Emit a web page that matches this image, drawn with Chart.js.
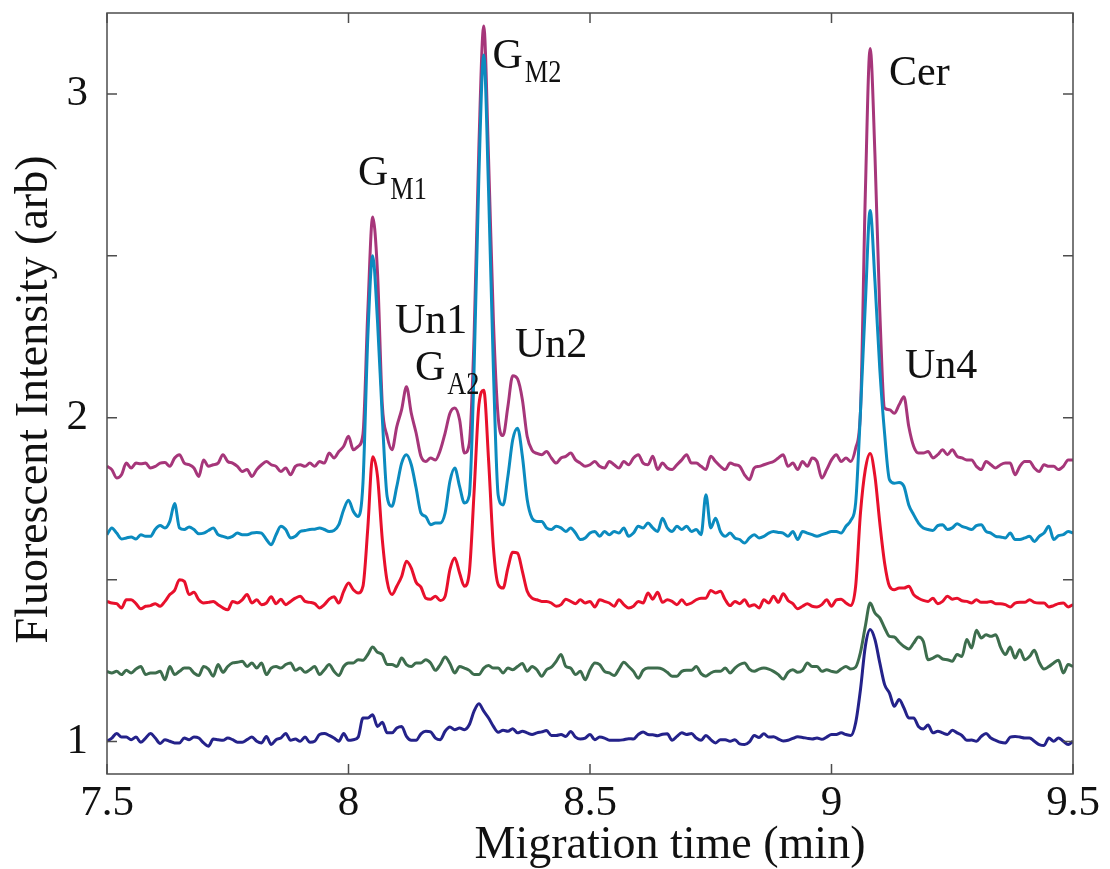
<!DOCTYPE html>
<html><head><meta charset="utf-8">
<script src="https://cdn.jsdelivr.net/npm/chart.js@4.4.0/dist/chart.umd.min.js"></script>
<style>html,body{margin:0;padding:0;background:#fff;} #wrap{width:1110px;height:869px;}</style>
</head><body><div id="wrap"><canvas id="c" width="1110" height="869"></canvas></div>
<script>
// Migration time grid: 7.50 ... 9.50 min, step 0.01
const tStart = 7.5, tStep = 0.01;

const magentaSeries = [
1.850,1.840,1.814,1.824,1.860,1.845,1.860,1.858,1.860,1.845,
1.850,1.860,1.862,1.850,1.876,1.886,1.860,1.855,1.845,1.819,
1.870,1.850,1.855,1.860,1.886,1.865,1.860,1.850,1.834,1.840,
1.819,1.840,1.855,1.865,1.855,1.850,1.834,1.845,1.824,1.850,
1.855,1.850,1.860,1.850,1.865,1.860,1.891,1.876,1.896,1.912,
1.943,1.901,1.912,1.950,2.330,2.620,2.450,2.040,1.943,1.901,
1.973,2.025,2.096,2.014,1.953,1.881,1.865,1.876,1.870,1.900,
1.953,2.014,2.030,1.994,1.891,1.920,2.250,2.840,3.210,2.800,
2.300,2.000,1.945,2.035,2.130,2.120,2.056,1.942,1.900,1.890,
1.886,1.896,1.876,1.860,1.876,1.881,1.891,1.870,1.860,1.850,
1.855,1.865,1.850,1.845,1.865,1.855,1.845,1.865,1.855,1.876,
1.886,1.860,1.855,1.881,1.840,1.860,1.845,1.840,1.855,1.870,
1.886,1.860,1.860,1.850,1.840,1.881,1.865,1.850,1.840,1.860,
1.855,1.850,1.824,1.809,1.845,1.850,1.855,1.860,1.865,1.876,
1.886,1.850,1.860,1.840,1.865,1.850,1.876,1.865,1.814,1.840,
1.870,1.886,1.865,1.876,1.865,1.906,2.020,2.690,3.140,2.810,
2.330,2.030,2.025,2.014,2.040,2.065,1.973,1.912,1.891,1.891,
1.896,1.876,1.886,1.901,1.886,1.901,1.881,1.876,1.870,1.870,
1.850,1.840,1.865,1.855,1.845,1.855,1.860,1.860,1.824,1.850,
1.865,1.865,1.845,1.834,1.855,1.850,1.850,1.840,1.850,1.870,1.870
];

const tealSeries = [
1.639,1.660,1.644,1.626,1.629,1.632,1.626,1.639,1.634,1.634,
1.656,1.667,1.660,1.680,1.735,1.660,1.655,1.663,1.655,1.642,
1.644,1.652,1.660,1.639,1.634,1.629,1.634,1.644,1.639,1.639,
1.644,1.646,1.644,1.624,1.608,1.639,1.665,1.655,1.629,1.634,
1.649,1.652,1.655,1.656,1.660,1.655,1.649,1.652,1.670,1.716,
1.745,1.711,1.695,1.800,2.250,2.500,2.300,2.000,1.757,1.727,
1.788,1.860,1.886,1.855,1.783,1.706,1.695,1.670,1.675,1.675,
1.706,1.804,1.845,1.788,1.737,1.760,2.150,2.750,3.120,2.700,
2.150,1.760,1.731,1.819,1.932,1.968,1.881,1.747,1.690,1.680,
1.680,1.660,1.655,1.665,1.660,1.649,1.660,1.644,1.624,1.629,
1.644,1.649,1.634,1.649,1.639,1.649,1.644,1.660,1.634,1.644,
1.665,1.660,1.675,1.660,1.649,1.690,1.660,1.649,1.665,1.655,
1.665,1.649,1.655,1.639,1.762,1.660,1.690,1.649,1.634,1.644,
1.629,1.624,1.613,1.629,1.639,1.629,1.634,1.644,1.649,1.646,
1.644,1.634,1.649,1.624,1.649,1.644,1.639,1.634,1.639,1.644,
1.649,1.649,1.644,1.665,1.683,1.737,2.020,2.350,2.640,2.420,
2.150,1.950,1.809,1.798,1.800,1.788,1.731,1.701,1.675,1.660,
1.655,1.652,1.667,1.670,1.655,1.660,1.673,1.665,1.660,1.655,
1.667,1.670,1.649,1.644,1.634,1.632,1.629,1.644,1.624,1.624,
1.629,1.634,1.618,1.634,1.644,1.665,1.624,1.636,1.639,1.649,1.644
];

const redSeries = [
1.433,1.428,1.426,1.413,1.438,1.438,1.426,1.410,1.418,1.420,
1.426,1.418,1.433,1.454,1.467,1.500,1.495,1.454,1.461,1.438,
1.428,1.430,1.433,1.423,1.413,1.407,1.433,1.428,1.438,1.454,
1.428,1.438,1.423,1.428,1.447,1.426,1.440,1.423,1.433,1.443,
1.449,1.433,1.430,1.426,1.413,1.423,1.440,1.447,1.428,1.464,
1.490,1.469,1.459,1.480,1.660,1.880,1.820,1.624,1.495,1.454,
1.480,1.510,1.557,1.536,1.492,1.477,1.443,1.440,1.449,1.436,
1.449,1.531,1.567,1.521,1.480,1.521,1.770,2.040,2.085,1.870,
1.600,1.485,1.474,1.536,1.585,1.582,1.526,1.464,1.443,1.438,
1.433,1.433,1.428,1.418,1.423,1.440,1.433,1.426,1.438,1.428,
1.433,1.416,1.438,1.433,1.428,1.418,1.438,1.423,1.413,1.418,
1.433,1.428,1.459,1.440,1.461,1.430,1.438,1.433,1.423,1.438,
1.423,1.428,1.438,1.443,1.443,1.467,1.459,1.464,1.438,1.420,
1.433,1.426,1.438,1.418,1.423,1.413,1.438,1.428,1.449,1.430,
1.457,1.436,1.426,1.410,1.418,1.426,1.418,1.416,1.423,1.438,
1.418,1.438,1.440,1.428,1.420,1.480,1.706,1.840,1.890,1.819,
1.675,1.551,1.480,1.469,1.474,1.474,1.480,1.454,1.443,1.436,
1.433,1.443,1.426,1.433,1.449,1.440,1.443,1.435,1.433,1.428,
1.438,1.430,1.430,1.433,1.426,1.426,1.423,1.416,1.428,1.430,
1.430,1.438,1.430,1.428,1.428,1.416,1.420,1.426,1.428,1.416,1.423
];

const greenSeries = [
1.217,1.212,1.217,1.207,1.220,1.212,1.224,1.232,1.207,1.212,
1.212,1.217,1.191,1.232,1.207,1.217,1.227,1.227,1.212,1.204,
1.232,1.224,1.202,1.238,1.214,1.232,1.243,1.245,1.248,1.232,
1.243,1.227,1.243,1.207,1.227,1.232,1.227,1.238,1.243,1.220,
1.227,1.214,1.222,1.232,1.207,1.222,1.238,1.217,1.204,1.232,
1.243,1.243,1.253,1.251,1.269,1.292,1.276,1.269,1.238,1.238,
1.232,1.258,1.238,1.232,1.243,1.243,1.253,1.243,1.220,1.238,
1.261,1.241,1.212,1.232,1.227,1.220,1.207,1.207,1.227,1.235,
1.227,1.227,1.212,1.227,1.222,1.232,1.241,1.217,1.232,1.222,
1.202,1.222,1.230,1.248,1.269,1.232,1.227,1.207,1.217,1.191,
1.222,1.243,1.238,1.217,1.212,1.204,1.224,1.245,1.232,1.217,
1.196,1.220,1.227,1.227,1.227,1.224,1.214,1.202,1.202,1.217,
1.220,1.220,1.232,1.210,1.202,1.212,1.217,1.217,1.227,1.212,
1.227,1.238,1.243,1.224,1.217,1.224,1.227,1.224,1.217,1.207,
1.193,1.214,1.222,1.214,1.220,1.243,1.232,1.232,1.217,1.222,
1.217,1.214,1.224,1.232,1.224,1.230,1.276,1.356,1.428,1.397,
1.382,1.351,1.325,1.323,1.307,1.294,1.286,1.304,1.323,1.310,
1.253,1.258,1.265,1.255,1.253,1.248,1.269,1.263,1.315,1.289,
1.344,1.320,1.330,1.325,1.330,1.292,1.269,1.292,1.258,1.284,
1.253,1.263,1.282,1.245,1.224,1.232,1.243,1.251,1.212,1.238,1.232
];

const navySeries = [
1.001,1.011,1.025,1.014,1.014,1.006,1.014,0.998,1.011,1.025,
1.011,0.994,1.006,1.001,0.996,0.996,1.011,1.006,1.014,1.011,
0.996,0.986,1.008,1.006,1.004,1.011,1.006,0.998,0.998,1.006,
1.014,1.001,0.996,1.016,0.991,1.006,1.011,1.025,1.004,1.008,
1.001,1.014,0.998,1.001,1.022,1.025,1.019,1.011,1.001,1.025,
1.004,1.006,1.014,1.073,1.073,1.083,1.047,1.060,1.027,1.027,
1.042,1.047,1.016,1.004,1.004,1.024,1.032,1.030,1.011,1.006,
1.032,1.045,1.037,1.042,1.037,1.052,1.094,1.117,1.094,1.073,
1.047,1.029,1.035,1.032,1.040,1.027,1.032,1.027,1.022,1.027,
1.030,1.034,1.019,1.019,1.022,1.016,1.031,1.014,1.008,1.011,
1.022,1.006,1.014,1.011,1.004,1.004,1.004,1.006,1.009,1.008,
1.022,1.030,1.022,1.021,1.018,1.023,1.024,1.004,1.016,1.027,
1.022,1.025,1.011,1.004,1.019,1.006,0.996,1.006,1.006,1.001,
1.006,0.993,0.991,0.999,1.019,1.013,1.024,1.014,1.015,1.008,
1.002,1.004,1.010,1.015,1.013,1.010,1.008,1.011,1.007,1.014,
1.022,1.022,1.027,1.022,1.019,1.058,1.161,1.294,1.346,1.315,
1.243,1.176,1.150,1.109,1.130,1.104,1.073,1.073,1.047,1.039,
1.051,1.027,1.032,1.027,1.022,1.035,1.027,1.019,1.004,1.005,
1.001,1.016,1.025,1.011,1.004,0.998,0.996,1.014,1.016,1.014,
1.011,1.011,1.001,0.991,0.988,1.011,1.001,1.011,1.001,0.991,1.001
];

const timeMin = magentaSeries.map((_, i) => Math.round((tStart + i * tStep) * 100) / 100);
const xTickValues = [7.5, 8, 8.5, 9, 9.5];
const yTickLabels = [1, 2, 3];

// peak annotations: text, subscript, anchor (time, intensity) of text baseline-left
const peakLabels = [
  { main: 'G', sub: 'M1', t: 8.0197, v: 2.719 },
  { main: 'G', sub: 'M2', t: 8.2981, v: 3.080 },
  { main: 'Un1', sub: '', t: 8.0963, v: 2.262 },
  { main: 'G', sub: 'A2', t: 8.1377, v: 2.117 },
  { main: 'Un2', sub: '', t: 8.3447, v: 2.188 },
  { main: 'Cer', sub: '', t: 9.1190, v: 3.028 },
  { main: 'Un4', sub: '', t: 9.1520, v: 2.123 }
];

const SERIF = '"Liberation Serif", "Times New Roman", serif';

function ds(values, color, order) {
  return {
    data: values.map((v, i) => ({ x: timeMin[i], y: v })),
    borderColor: color, borderWidth: 3, pointRadius: 0, fill: false,
    cubicInterpolationMode: 'monotone', order: order
  };
}

const framePlugin = {
  id: 'frameAndText',
  afterDraw(chart) {
    const { ctx, chartArea: a, scales: { x, y } } = chart;
    ctx.save();
    ctx.strokeStyle = '#4d4d4d';
    ctx.lineWidth = 1.5;
    ctx.strokeRect(a.left, a.top, a.right - a.left, a.bottom - a.top);
    ctx.beginPath();
    x.ticks.forEach(t => {
      const px = x.getPixelForValue(t.value);
      ctx.moveTo(px, a.bottom); ctx.lineTo(px, a.bottom - 10);
      ctx.moveTo(px, a.top); ctx.lineTo(px, a.top + 10);
    });
    y.ticks.forEach(t => {
      const py = y.getPixelForValue(t.value);
      ctx.moveTo(a.left, py); ctx.lineTo(a.left + 10, py);
      ctx.moveTo(a.right, py); ctx.lineTo(a.right - 10, py);
    });
    ctx.stroke();

    ctx.fillStyle = '#111';
    ctx.textAlign = 'left';
    ctx.textBaseline = 'alphabetic';
    peakLabels.forEach(l => {
      const px = x.getPixelForValue(l.t), py = y.getPixelForValue(l.v);
      ctx.font = '42px ' + SERIF;
      ctx.fillText(l.main, px, py);
      if (l.sub) {
        const w = ctx.measureText(l.main).width;
        ctx.save();
        ctx.translate(px + w + 2, py + 14);
        ctx.scale(0.85, 1);
        ctx.font = '31px ' + SERIF;
        ctx.fillText(l.sub, 0, 0);
        ctx.restore();
      }
    });

    // axis titles
    ctx.font = '46px ' + SERIF;
    ctx.textAlign = 'center';
    ctx.fillText('Migration time (min)', (a.left + a.right) / 2 + 80, a.bottom + 84);
    ctx.save();
    ctx.translate(47, (a.top + a.bottom) / 2 + 6);
    ctx.rotate(-Math.PI / 2);
    ctx.fillText('Fluorescent Intensity (arb)', 0, 0);
    ctx.restore();
    ctx.restore();
  }
};

new Chart(document.getElementById('c'), {
  type: 'line',
  data: {
    datasets: [
      ds(magentaSeries, '#a6367a', 3),
      ds(tealSeries, '#0b8bbf', 2),
      ds(redSeries, '#e8102c', 1),
      ds(greenSeries, '#3d6d4d', 4),
      ds(navySeries, '#24228a', 5)
    ]
  },
  options: {
    responsive: false,
    animation: false,
    layout: { padding: { top: 13, right: 37, left: 0, bottom: 0 } },
    plugins: { legend: { display: false }, tooltip: { enabled: false } },
    scales: {
      x: {
        type: 'linear', min: 7.5, max: 9.5,
        grid: { display: false, drawTicks: false },
        border: { display: false },
        afterFit: s => { s.height = 95; s.paddingLeft = 0; s.paddingRight = 0; },
        afterBuildTicks: s => { s.ticks = xTickValues.map(v => ({ value: v })); },
        ticks: {
          padding: 4, color: '#111', font: { family: SERIF, size: 43 },
          maxRotation: 0, autoSkip: false,
          callback: v => String(Math.round(v * 10) / 10)
        }
      },
      y: {
        type: 'linear', min: 0.9, max: 3.25,
        grid: { display: false, drawTicks: false },
        border: { display: false },
        afterFit: s => { s.width = 107; s.paddingTop = 0; s.paddingBottom = 0; },
        ticks: {
          stepSize: 0.5, includeBounds: false, padding: 19, color: '#111',
          font: { family: SERIF, size: 43 },
          callback: v => {
            const r = Math.round(v);
            return (Math.abs(v - r) < 1e-9 && yTickLabels.includes(r)) ? String(r) : '';
          }
        }
      }
    }
  },
  plugins: [framePlugin]
});
</script>
</body></html>
